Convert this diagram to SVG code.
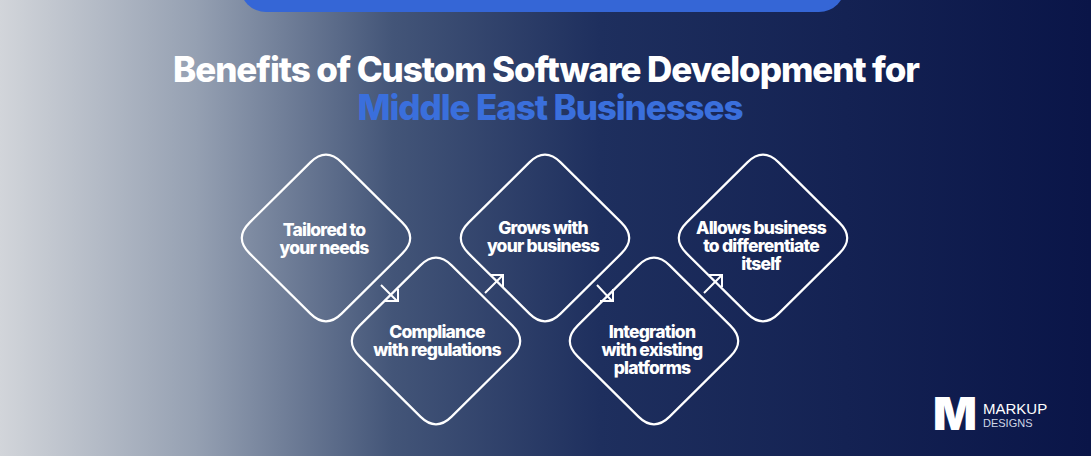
<svg xmlns="http://www.w3.org/2000/svg" width="1091" height="456" viewBox="0 0 1091 456">
<defs>
<linearGradient id="bg" x1="0" y1="0" x2="1" y2="0">
<stop offset="0" stop-color="#d2d5da"/>
<stop offset="0.18" stop-color="#95a0b2"/>
<stop offset="0.36" stop-color="#435578"/>
<stop offset="0.55" stop-color="#1e2f5e"/>
<stop offset="1" stop-color="#0a1548"/>
</linearGradient>
<path id="dia" d="M 15.6,-75.6 L 76.4,-15.4 Q 92,0 76.4,15.4 L 15.6,75.6 Q 0,91 -15.6,75.6 L -76.4,15.4 Q -92,0 -76.4,-15.4 L -15.6,-75.6 Q 0,-91 15.6,-75.6 Z"/>
</defs>
<style>
.d{fill:none;stroke:#fff;stroke-width:2.2}
.t{font-family:Inter,"Liberation Sans",sans-serif;font-weight:800;font-size:17.5px;fill:#fff;text-anchor:middle;letter-spacing:-0.8px}
.a{fill:none;stroke:#fff;stroke-width:2}
.h{font-family:Inter,"Liberation Sans",sans-serif;font-weight:800;font-size:35px;text-anchor:middle;letter-spacing:-1.1px}
</style>
<rect width="1091" height="456" fill="url(#bg)"/>
<rect x="240" y="-40" width="605" height="52" rx="26" fill="#3566d6"/>
<text class="h" x="546" y="82" fill="#fff">Benefits of Custom Software Development for</text>
<text class="h" x="550" y="120" fill="#3a6fdc">Middle East Businesses</text>
<g id="n1"><use href="#dia" class="d" x="326" y="238"/><text class="t" x="324" y="236">Tailored to</text><text class="t" x="324" y="254">your needs</text></g>
<g id="n2"><use href="#dia" class="d" x="436" y="341"/><text class="t" x="437" y="338">Compliance</text><text class="t" x="437" y="356">with regulations</text></g>
<g id="n3"><use href="#dia" class="d" x="545" y="238"/><text class="t" x="543" y="234">Grows with</text><text class="t" x="543" y="252">your business</text></g>
<g id="n4"><use href="#dia" class="d" x="654" y="341"/><text class="t" x="652" y="338">Integration</text><text class="t" x="652" y="356">with existing</text><text class="t" x="652" y="374">platforms</text></g>
<g id="n5"><use href="#dia" class="d" x="763" y="238"/><text class="t" x="761" y="234">Allows business</text><text class="t" x="761" y="252">to differentiate</text><text class="t" x="761" y="270">itself</text></g>
<g id="connectors">
<path class="a" d="M381,285 L397,301 M385,301 H398 V289"/>
<path class="a" d="M485,293 L502,276 M490,275 H503 V287"/>
<path class="a" d="M597,285 L612,301 M600,301 H613 V289"/>
<path class="a" d="M704,293 L721,276 M709,275 H722 V287"/>
</g>
<g id="logo">
<text x="933" y="430" font-family="Inter,'Liberation Sans',sans-serif" font-weight="900" font-size="46" fill="#fff">M</text>
<text x="983" y="414" font-family="'Liberation Sans',sans-serif" font-size="15" fill="#fff">MARKUP</text>
<text x="983" y="427" font-family="'Liberation Sans',sans-serif" font-size="11" fill="#cfd6e6">DESIGNS</text>
</g>
</svg>
